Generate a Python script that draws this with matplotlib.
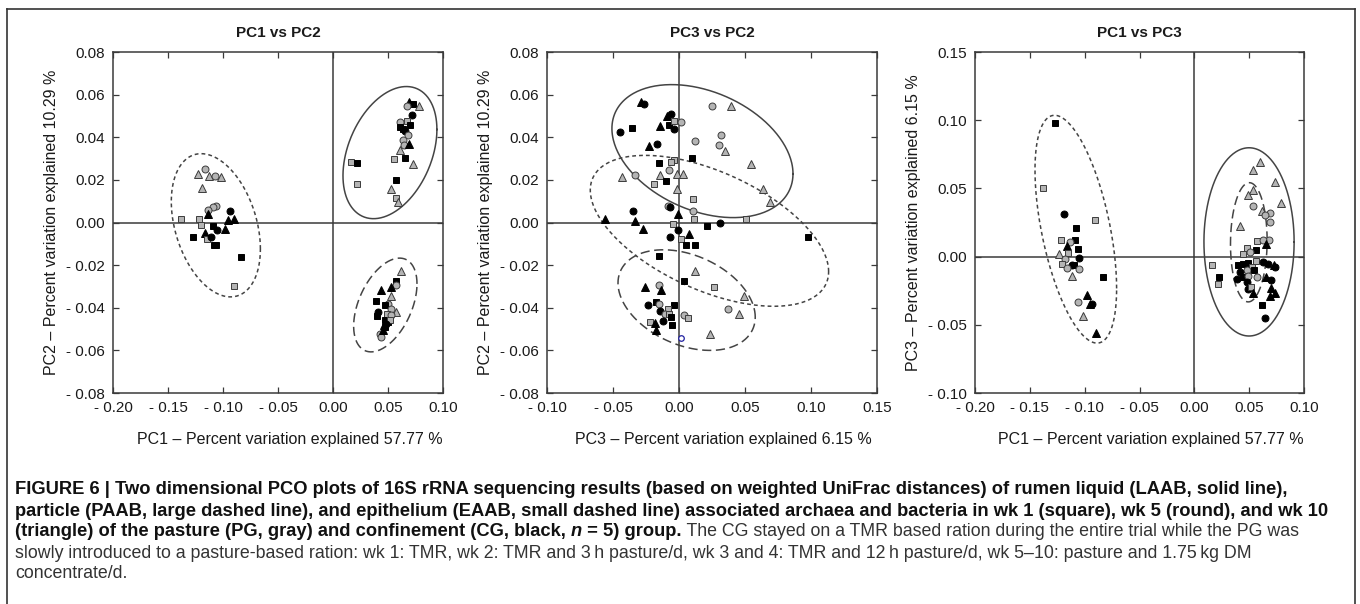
import numpy as np
import matplotlib
matplotlib.use("Agg")
import matplotlib.pyplot as plt
from matplotlib.ticker import FuncFormatter, MultipleLocator
from matplotlib.lines import Line2D
from matplotlib.text import Annotation

plt.rcParams["font.family"] = ["Liberation Sans", "DejaVu Sans"]

# ---- panel 1: PC1 vs PC2 ----
p1_x = [-0.1227, -0.116, -0.113, -0.107, -0.102, -0.119, -0.106, -0.109, -0.114,
        -0.1136, -0.094, -0.0955, -0.090, -0.098, -0.138, -0.122, -0.120, -0.127,
        -0.116, -0.109, -0.105, -0.1145, -0.111, -0.108, -0.106, -0.0833, -0.090,
        0.016, 0.0221, 0.0221, 0.069, 0.0727, 0.078, 0.0676, 0.0715, 0.0606, 0.0673,
        0.0606, 0.064, 0.0697, 0.0652, 0.068, 0.0636, 0.065, 0.0606, 0.069, 0.0555,
        0.0655, 0.0727, 0.0576, 0.0527, 0.057, 0.0594,
        0.0621, 0.057, 0.0576, 0.0524, 0.044, 0.0524, 0.039, 0.050, 0.047, 0.053,
        0.0576, 0.041, 0.0403, 0.049, 0.053, 0.0473, 0.0503, 0.0515, 0.046, 0.0476,
        0.0424, 0.044, 0.0455, 0.0485]
p1_y = [0.0229, 0.025, 0.022, 0.022, 0.0214, 0.016, 0.0077, 0.0073, 0.0057,
        0.0041, 0.0054, 0.001, 0.0018, -0.003, 0.0015, 0.0015, -0.001, -0.0068,
        -0.005, -0.0016, -0.0037, -0.0076, -0.0068, -0.0107, -0.0107, -0.0162, -0.030,
        0.0284, 0.028, 0.0179, 0.0565, 0.0558, 0.0545, 0.0545, 0.0506, 0.0472, 0.0476,
        0.0448, 0.044, 0.0456, 0.0429, 0.041, 0.0386, 0.0362, 0.0339, 0.0367, 0.030,
        0.0304, 0.0276, 0.0198, 0.0159, 0.0117, 0.0098,
        -0.0227, -0.0274, -0.0295, -0.0303, -0.0318, -0.0345, -0.0368, -0.0384, -0.0389, -0.0404,
        -0.042, -0.042, -0.044, -0.0428, -0.0435, -0.0459, -0.0467, -0.0456, -0.0482, -0.049,
        -0.0522, -0.0537, -0.0506, -0.0478]
p1_week = [10, 5, 10, 5, 10, 10, 5, 5, 5,
           10, 5, 10, 10, 10, 1, 1, 1, 1,
           10, 1, 5, 1, 5, 1, 1, 1, 1,
           1, 1, 1, 10, 1, 10, 5, 5, 5, 1,
           1, 1, 1, 5, 5, 5, 5, 10, 10, 1,
           1, 10, 1, 10, 1, 10,
           10, 1, 5, 10, 10, 10, 1, 5, 1, 5,
           10, 5, 1, 1, 5, 1, 1, 1, 10, 1,
           5, 5, 10, 5]
p1_group = ["PG", "PG", "PG", "PG", "PG", "PG", "PG", "PG", "PG",
            "CG", "CG", "CG", "CG", "CG", "PG", "PG", "PG", "CG",
            "CG", "CG", "CG", "PG", "CG", "CG", "CG", "CG", "PG",
            "PG", "CG", "PG", "CG", "CG", "PG", "PG", "CG", "PG", "PG",
            "CG", "CG", "CG", "CG", "PG", "PG", "PG", "PG", "CG", "PG",
            "CG", "PG", "CG", "PG", "PG", "PG",
            "PG", "CG", "PG", "CG", "CG", "PG", "CG", "PG", "CG", "PG",
            "PG", "CG", "CG", "PG", "PG", "CG", "CG", "PG", "CG", "CG",
            "PG", "PG", "CG", "CG"]

# ---- panel 2: PC3 vs PC2 ----
p2_x = [-0.0288, -0.0268, -0.045, -0.0356, -0.0146, -0.023, -0.0169, -0.0091, -0.0058, -0.0073,
        -0.004, -0.004, 0.0018, 0.025, 0.0396, 0.0318, 0.0119, 0.030, 0.0346, 0.0545,
        0.0098, -0.0035, -0.0058, -0.0154, -0.0078, -0.0141, -0.0096, -0.0192, -0.0015, 0.0028,
        -0.0432, -0.0331, 0.0636, 0.0692, -0.0015, 0.0106, -0.0086, 0.0106, -0.0348, -0.0558,
        -0.0331, -0.0273, -0.0066, -0.0008, 0.0111, 0.051, -0.0048, -0.0008, -0.0066, 0.0212,
        0.0308, 0.0078, 0.0018, 0.0053, 0.0119, -0.0154, 0.0975, 0.0495, 0.0263, 0.0119,
        0.004, -0.0149, -0.0255, -0.0134, -0.0235, -0.0172, -0.0149, -0.004, -0.0083, -0.0141,
        -0.0104, -0.0078, -0.0058, -0.0124, -0.0222, -0.0184, -0.0053, -0.0172, 0.0035, 0.0066,
        0.0371, 0.0457, 0.0237]
p2_y = [0.0565, 0.0558, 0.0425, 0.0443, 0.0451, 0.0359, 0.0367, 0.050, 0.0508, 0.0456,
        0.044, 0.0476, 0.047, 0.0545, 0.0548, 0.041, 0.0382, 0.0365, 0.0334, 0.0273,
        0.0304, 0.0295, 0.0284, 0.028, 0.0248, 0.0221, 0.0196, 0.018, 0.0226, 0.0229,
        0.0214, 0.0221, 0.0156, 0.0098, 0.0157, 0.0112, 0.0077, 0.0054, 0.0052, 0.0018,
        0.0007, -0.0029, 0.0073, 0.0041, 0.0015, 0.0015, -0.0005, -0.0034, -0.0068, -0.0018,
        -0.0002, -0.0052, -0.0076, -0.0107, -0.0107, -0.0159, -0.0068, -0.0345, -0.0303, -0.0228,
        -0.0276, -0.0295, -0.0303, -0.0318, -0.0386, -0.0373, -0.0384, -0.0389, -0.0404, -0.0417,
        -0.0428, -0.0431, -0.0443, -0.0462, -0.0467, -0.0471, -0.0479, -0.0506, -0.0436, -0.0447,
        -0.0404, -0.0428, -0.0522]
p2_week = [10, 5, 5, 1, 10, 10, 5, 10, 5, 1,
           5, 1, 5, 5, 10, 5, 5, 5, 10, 10,
           1, 1, 1, 1, 5, 10, 1, 1, 10, 10,
           10, 5, 10, 10, 10, 1, 5, 5, 5, 10,
           10, 10, 5, 10, 1, 1, 1, 5, 5, 1,
           5, 10, 1, 1, 1, 1, 1, 10, 1, 10,
           1, 5, 10, 10, 5, 1, 5, 1, 1, 5,
           5, 1, 1, 5, 1, 10, 1, 10, 5, 1,
           5, 10, 10]
p2_group = ["CG", "CG", "CG", "CG", "CG", "CG", "CG", "CG", "CG", "CG",
            "CG", "PG", "PG", "PG", "PG", "PG", "PG", "PG", "PG", "PG",
            "CG", "PG", "PG", "CG", "PG", "PG", "CG", "PG", "PG", "PG",
            "PG", "PG", "PG", "PG", "PG", "PG", "PG", "PG", "CG", "CG",
            "CG", "CG", "CG", "CG", "PG", "PG", "PG", "CG", "CG", "CG",
            "CG", "CG", "PG", "CG", "CG", "CG", "CG", "PG", "PG", "PG",
            "CG", "PG", "CG", "CG", "CG", "CG", "PG", "CG", "PG", "CG",
            "PG", "PG", "CG", "CG", "PG", "CG", "CG", "CG", "PG", "PG",
            "PG", "PG", "PG"]
p2_odd_x = [0.0018]   # small blue open circle
p2_odd_y = [-0.054]

# ---- panel 3: PC1 vs PC3 ----
p3_x = [-0.1271, -0.1377, -0.1189, -0.0907, -0.108, -0.1217, -0.1089, -0.1134, -0.1159, -0.1065,
        -0.115, -0.1232, -0.118, -0.1204, -0.105, -0.1119, -0.1098, -0.1165, -0.1053, -0.1119,
        -0.0831, -0.0983, -0.0937, -0.1059, -0.1019, -0.0901, -0.095,
        0.0165, 0.0226, 0.0217, 0.0596, 0.053, 0.0733, 0.0785, 0.0536, 0.049, 0.0536,
        0.0618, 0.0688, 0.0648, 0.0688, 0.042, 0.0572, 0.0678, 0.0627, 0.0657, 0.0566,
        0.0481, 0.0505, 0.0445, 0.0399, 0.0445, 0.049, 0.056, 0.0627, 0.0672, 0.0724,
        0.0733, 0.0521, 0.0475, 0.0542, 0.0414, 0.0384, 0.0445, 0.0575, 0.049, 0.0651,
        0.0694, 0.0475, 0.049, 0.0512, 0.0536, 0.0697, 0.0733, 0.0688, 0.0612, 0.0642]
p3_y = [0.0979, 0.0505, 0.031, 0.0266, 0.0207, 0.0119, 0.0119, 0.0107, 0.0075, 0.0053,
        0.0029, 0.0017, -0.0015, -0.0052, -0.0008, -0.0059, -0.0064, -0.0084, -0.0089, -0.0142,
        -0.0152, -0.0279, -0.035, -0.0333, -0.0435, -0.0558, -0.0345,
        -0.0059, -0.015, -0.0198, 0.0693, 0.0632, 0.0547, 0.0395, 0.0491, 0.0454, 0.0369,
        0.0334, 0.032, 0.0303, 0.0254, 0.0224, 0.0114, 0.0124, 0.0119, 0.0095, 0.0046,
        0.0066, 0.0034, 0.0017, -0.0064, -0.0052, -0.0047, -0.0032, -0.004, -0.0052, -0.0064,
        -0.0076, -0.0076, -0.0101, -0.0096, -0.0113, -0.0162, -0.015, -0.015, -0.014, -0.015,
        -0.0174, -0.0186, -0.0235, -0.0223, -0.0267, -0.0228, -0.0267, -0.0291, -0.0352, -0.045]
p3_week = [1, 1, 5, 1, 1, 1, 1, 5, 10, 1,
           1, 10, 5, 1, 5, 5, 1, 5, 5, 10,
           1, 10, 5, 5, 10, 10, 10,
           1, 1, 1, 10, 10, 10, 10, 10, 10, 5,
           10, 5, 5, 5, 10, 1, 5, 5, 10, 1,
           1, 5, 1, 1, 1, 1, 1, 5, 5, 10,
           5, 1, 5, 1, 5, 5, 1, 5, 5, 10,
           5, 5, 5, 1, 10, 10, 10, 10, 1, 5]
p3_group = ["CG", "PG", "CG", "PG", "CG", "PG", "CG", "PG", "CG", "CG",
            "PG", "PG", "PG", "PG", "CG", "CG", "CG", "PG", "PG", "PG",
            "CG", "CG", "CG", "PG", "PG", "CG", "CG",
            "PG", "CG", "PG", "PG", "PG", "PG", "PG", "PG", "PG", "PG",
            "PG", "PG", "PG", "PG", "PG", "PG", "PG", "PG", "CG", "CG",
            "PG", "PG", "PG", "CG", "CG", "CG", "PG", "CG", "CG", "CG",
            "CG", "PG", "PG", "CG", "CG", "CG", "CG", "PG", "PG", "CG",
            "CG", "CG", "CG", "PG", "CG", "CG", "CG", "CG", "CG", "CG"]

# ellipses: (centre x, centre y, half range x, half range y, correlation, style)
p1_ellipses = [(-0.1065, -0.0013, 0.0405, 0.0336, -0.33, "small"),
               (0.0518, 0.0328, 0.0427, 0.0310, 0.35, "solid"),
               (0.0476, -0.0387, 0.0288, 0.0220, 0.45, "large")]
p2_ellipses = [(0.0178, 0.0335, 0.0686, 0.0312, -0.34, "solid"),
               (0.0231, -0.0039, 0.0903, 0.0354, -0.54, "small"),
               (0.0058, -0.0364, 0.0520, 0.0236, -0.34, "large")]
p3_ellipses = [(-0.1081, 0.0201, 0.0372, 0.0835, -0.52, "small"),
               (0.0498, 0.0108, 0.0411, 0.0690, 0.0, "solid"),
               (0.0496, 0.0105, 0.0167, 0.0437, 0.03, "large")]

caption_bold = [
    "FIGURE 6 | Two dimensional PCO plots of 16S rRNA sequencing results (based on weighted UniFrac distances) of rumen liquid (LAAB, solid line),",
    "particle (PAAB, large dashed line), and epithelium (EAAB, small dashed line) associated archaea and bacteria in wk 1 (square), wk 5 (round), and wk 10",
]
caption_l3 = ["(triangle) of the pasture (PG, gray) and confinement (CG, black, ", "n", " = 5) group.",
              " The CG stayed on a TMR based ration during the entire trial while the PG was"]
caption_rest = [
    "slowly introduced to a pasture-based ration: wk 1: TMR, wk 2: TMR and 3\u2009h pasture/d, wk 3 and 4: TMR and 12\u2009h pasture/d, wk 5\u201310: pasture and 1.75\u2009kg DM",
    "concentrate/d.",
]

MARK = {1: "s", 5: "o", 10: "^"}
LINESTYLE = {"solid": "-", "large": (0, (6, 3)), "small": (0, (2.5, 2))}
DARK = "#3a3a3a"


def tick_fmt(v, pos):
    if abs(v) < 1e-9:
        return "0.00"
    if v < 0:
        return "- %.2f" % abs(v)
    return "%.2f" % v


def panel(ax, xs, ys, weeks, groups, ellipses, xlim, ylim, ystep, title, xlabel, ylabel):
    ax.set_xlim(*xlim)
    ax.set_ylim(*ylim)
    ax.axhline(0, color=DARK, lw=1.1, zorder=1)
    ax.axvline(0, color=DARK, lw=1.1, zorder=1)
    t = np.linspace(0, 2 * np.pi, 300)
    for cx, cy, hx, hy, rho, style in ellipses:
        phi = np.arccos(rho)
        ax.plot(cx + hx * np.cos(t), cy + hy * np.cos(t - phi), color="#444444",
                lw=1.1, ls=LINESTYLE[style], zorder=2)
    for x, y, w, g in zip(xs, ys, weeks, groups):
        if g == "PG":
            fc, ec = "#b4b4b4", "#3c3c3c"
        else:
            fc, ec = "black", "black"
        ms = 5.8 if w == 10 else 5.0
        ax.plot([x], [y], marker=MARK[w], ms=ms, mfc=fc, mec=ec, mew=0.7,
                ls="none", zorder=3)
    ax.xaxis.set_major_locator(MultipleLocator(0.05))
    ax.yaxis.set_major_locator(MultipleLocator(ystep))
    ax.xaxis.set_major_formatter(FuncFormatter(tick_fmt))
    ax.yaxis.set_major_formatter(FuncFormatter(tick_fmt))
    ax.tick_params(direction="in", top=True, right=True, length=4, width=0.9,
                   color=DARK, labelsize=11, labelcolor="#1a1a1a", pad=6)
    for s in ax.spines.values():
        s.set_color(DARK)
        s.set_linewidth(1.1)
    ax.set_title(title, fontsize=11, fontweight="bold", color="#1a1a1a", pad=11)
    ax.set_xlabel(xlabel, fontsize=11.5, color="#1a1a1a")
    ax.set_ylabel(ylabel, fontsize=11.5, color="#1a1a1a", labelpad=5)
    ax.xaxis.set_label_coords(0.535, -0.115)


fig = plt.figure(figsize=(13.6, 6.04), dpi=100)

ax1 = fig.add_axes([0.0831, 0.3493, 0.2426, 0.5646])
panel(ax1, p1_x, p1_y, p1_week, p1_group, p1_ellipses, (-0.20, 0.10), (-0.08, 0.08), 0.02,
      "PC1 vs PC2", "PC1 \u2013 Percent variation explained 57.77 %",
      "PC2 \u2013 Percent variation explained 10.29 %")

ax2 = fig.add_axes([0.4022, 0.3493, 0.2426, 0.5646])
panel(ax2, p2_x, p2_y, p2_week, p2_group, p2_ellipses, (-0.10, 0.15), (-0.08, 0.08), 0.02,
      "PC3 vs PC2", "PC3 \u2013 Percent variation explained 6.15 %",
      "PC2 \u2013 Percent variation explained 10.29 %")
ax2.plot(p2_odd_x, p2_odd_y, marker="o", ms=4, mfc="white", mec="#2020a0", mew=0.9,
         ls="none", zorder=3)

ax3 = fig.add_axes([0.7169, 0.3493, 0.2420, 0.5646])
panel(ax3, p3_x, p3_y, p3_week, p3_group, p3_ellipses, (-0.20, 0.10), (-0.10, 0.15), 0.05,
      "PC1 vs PC3", "PC1 \u2013 Percent variation explained 57.77 %",
      "PC3 \u2013 Percent variation explained 6.15 %")

# outer frame (open at the bottom)
frame_kw = dict(color="#333333", lw=1.2, transform=fig.transFigure)
fig.add_artist(Line2D([0.0051, 0.0051], [0.0, 0.985], **frame_kw))
fig.add_artist(Line2D([0.0051, 0.9963], [0.985, 0.985], **frame_kw))
fig.add_artist(Line2D([0.9963, 0.9963], [0.0, 0.985], **frame_kw))

# caption
narrow = ["Liberation Sans Narrow", "Liberation Sans", "DejaVu Sans"]
regular = ["Liberation Sans", "DejaVu Sans"]
cap_x = 15 / 1360
line_y = [1 - 490 / 604, 1 - 511 / 604, 1 - 532 / 604, 1 - 553 / 604, 1 - 574 / 604]
bold_kw = dict(fontsize=13.2, fontweight="bold", family=narrow, color="#111111", va="center")
reg_kw = dict(fontsize=12.8, family=regular, color="#333333", va="center")

fig.text(cap_x, line_y[0], caption_bold[0], **bold_kw)
fig.text(cap_x, line_y[1], caption_bold[1], **bold_kw)
t1 = fig.text(cap_x, line_y[2], caption_l3[0], **bold_kw)
# chain the rest of line 3 after the previous piece
t2 = fig.add_artist(Annotation(caption_l3[1], xy=(1, 0.5), xycoords=t1, ha="left",
                               fontstyle="italic", **bold_kw))
t3 = fig.add_artist(Annotation(caption_l3[2], xy=(1, 0.5), xycoords=t2, ha="left", **bold_kw))
fig.add_artist(Annotation(caption_l3[3], xy=(1, 0.5), xycoords=t3, ha="left", **reg_kw))
fig.text(cap_x, line_y[3], caption_rest[0], **reg_kw)
fig.text(cap_x, line_y[4], caption_rest[1], **reg_kw)

fig.savefig("out.png", dpi=100)
